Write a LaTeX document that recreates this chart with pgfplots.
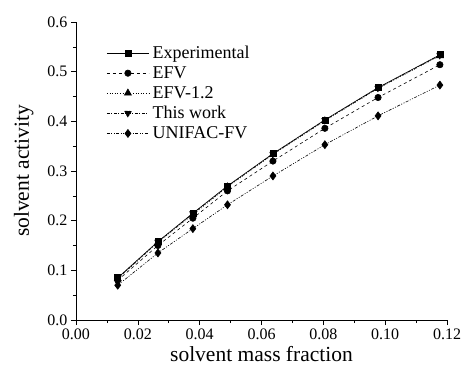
\documentclass[border=0pt]{standalone}
\usepackage{fontspec}
\setmainfont{Liberation Serif}
\usepackage{pgfplots}
\pgfplotsset{compat=1.18}
\begin{document}
\begin{tikzpicture}
\useasboundingbox (-76pt,-58pt) rectangle (389pt,320pt);
\begin{axis}[
  scale only axis,
  width=371pt, height=298pt,
  xmin=0, xmax=0.12, ymin=0, ymax=0.6,
  axis lines*=left,
  axis line style={-, line width=0.6pt},
  tick align=outside,
  major tick length=5pt, minor tick length=3pt,
  tick style={black, line width=0.6pt},
  xtick={0,0.02,...,0.121}, ytick={0,0.1,...,0.61},
  minor tick num=1,
  /pgf/number format/assume math mode=true,
  xticklabel style={/pgf/number format/.cd, fixed, fixed zerofill, precision=2},
  yticklabel style={/pgf/number format/.cd, fixed, fixed zerofill, precision=1},
  scaled x ticks=false, scaled y ticks=false,
  tick label style={font=\fontsize{16}{19}\selectfont},
  label style={font=\fontsize{21.5}{25}\selectfont},
  xlabel={solvent mass fraction},
  ylabel={solvent activity},
  xlabel style={yshift=0pt},
  ylabel style={yshift=7pt},
  legend style={draw=none, fill=none, at={(0.082,0.925)}, anchor=north west,
    font=\fontsize{18}{21}\selectfont, row sep=3.5pt, inner sep=0pt,
    nodes={inner sep=1.5pt},
    /tikz/every odd column/.append style={column sep=2pt}},
  legend cell align=left,
  legend image code/.code={\draw[mark repeat=2,mark phase=2,#1] plot coordinates {(0pt,0pt) (21pt,0pt) (42pt,0pt)};},
  every axis plot/.append style={black, line width=0.6pt, mark size=3.5pt, mark options={solid, fill=black}},
]
\addplot[mark=square*, mark size=3pt] coordinates {
(0.0135,0.085) (0.0265,0.158) (0.0378,0.215) (0.049,0.270) (0.0637,0.335) (0.0805,0.403) (0.0977,0.468) (0.1177,0.534)};
\addlegendentry{Experimental}
\addplot[dashed, mark=*, mark size=3.2pt] coordinates {
(0.0135,0.080) (0.0265,0.150) (0.0378,0.205) (0.049,0.260) (0.0637,0.320) (0.0805,0.386) (0.0977,0.448) (0.1177,0.514)};
\addlegendentry{EFV}
\addplot[dotted, mark=triangle*, mark size=4pt] coordinates {
(0.0135,0.083) (0.0265,0.156) (0.0378,0.212) (0.049,0.268) (0.0637,0.333) (0.0805,0.401) (0.0977,0.466) (0.1177,0.532)};
\addlegendentry{EFV-1.2}
\addplot[dash pattern=on 3pt off 1.5pt on 1pt off 1.5pt, mark=triangle*, mark size=4pt, mark options={rotate=180}] coordinates {
(0.0135,0.084) (0.0265,0.157) (0.0378,0.214) (0.049,0.269) (0.0637,0.334) (0.0805,0.402) (0.0977,0.467) (0.1177,0.533)};
\addlegendentry{This work}
\addplot[dash pattern=on 3pt off 1.5pt on 1pt off 1.5pt on 1pt off 1.5pt, mark=diamond*, mark size=4pt] coordinates {
(0.0135,0.070) (0.0265,0.135) (0.0378,0.184) (0.049,0.232) (0.0637,0.290) (0.0805,0.353) (0.0977,0.411) (0.1177,0.473)};
\addlegendentry{UNIFAC-FV}
\end{axis}
\end{tikzpicture}
\end{document}
